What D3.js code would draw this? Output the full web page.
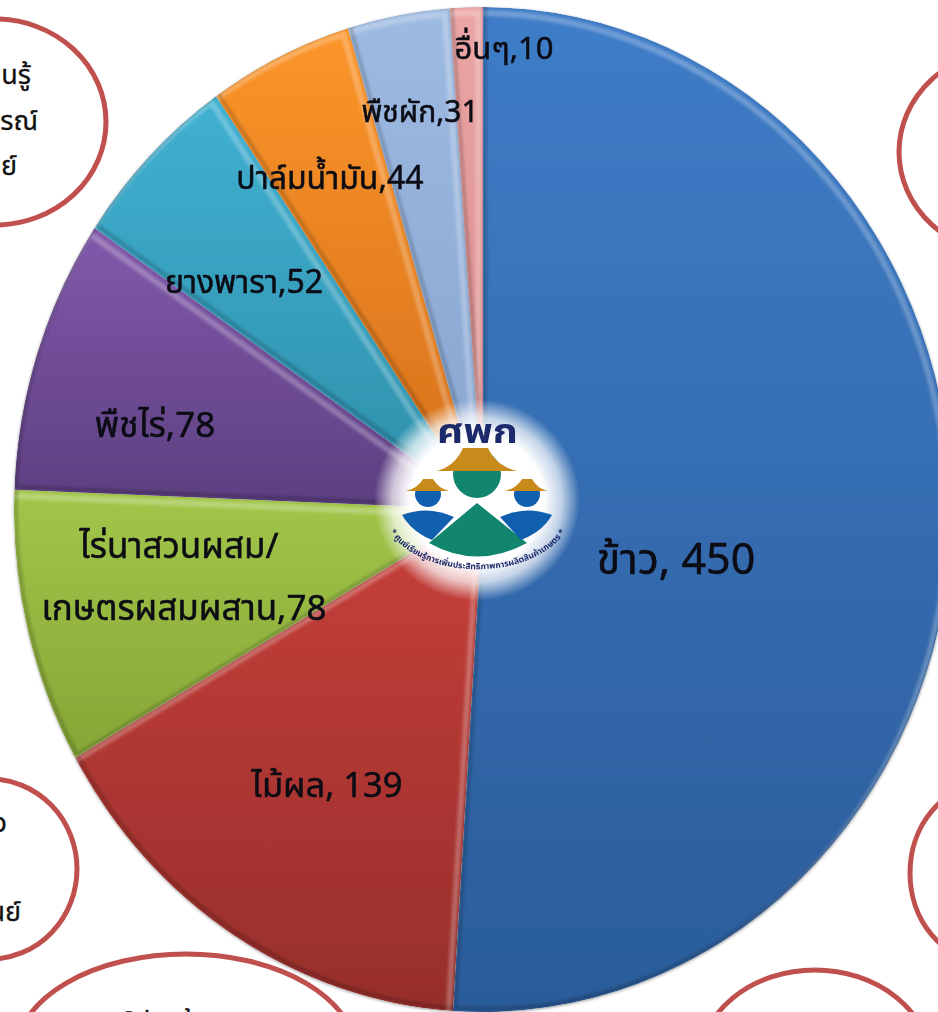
<!DOCTYPE html>
<html lang="th">
<head>
<meta charset="utf-8">
<script src="https://cdn.jsdelivr.net/npm/d3@7"></script>
<style>
  html, body { margin: 0; padding: 0; background: #fff; overflow: hidden; }
  svg { display: block; }
  text { font-family: "Noto Sans", "Noto Sans Thai", "Liberation Sans", sans-serif; }
</style>
</head>
<body>
<svg id="chart" width="938" height="1012"></svg>
<script>
// ===== DATA =====

const cropNames = ["ข้าว", "ไม้ผล", "ไร่นาสวนผสม/เกษตรผสมผสาน", "พืชไร่", "ยางพารา", "ปาล์มน้ำมัน", "พืชผัก", "อื่นๆ"];
const cropValues = [450, 139, 78, 78, 52, 44, 31, 10];
const cropLabels = [["ข้าว, 450"], ["ไม้ผล, 139"], ["ไร่นาสวนผสม/", "เกษตรผสมผสาน,78"], ["พืชไร่,78"], ["ยางพารา,52"], ["ปาล์มน้ำมัน,44"], ["พืชผัก,31"], ["อื่นๆ,10"]];

// ===== STYLE =====

const topColors = ["#3f7dc8", "#c8403a", "#a2c64a", "#8259ab", "#40b0d2", "#fc952a", "#9dbae2", "#eba5a5"];
const bottomColors = ["#2b5c9a", "#962e2b", "#86a636", "#5c3f80", "#2e8fa9", "#d46f1b", "#87a4d0", "#d88989"];
const labelX = [676, 327, 179, 155, 244, 330, 420, 504];
const labelY = [574, 797, 558, 437, 293, 189, 122, 59];
const labelSize = [43, 34.5, 35, 35, 32, 32, 30, 31];

const svg = d3.select("#chart");
const defs = svg.append("defs");

// ===== CALLOUTS (cut by the page edge) =====

const callouts = [
  [-5, 122, 111, 103], [1012, 152, 113, 103], [-10, 869, 87, 90],
  [985, 873, 75, 88], [186, 1054, 170, 100], [815, 1065, 116, 95]
];
svg.selectAll("ellipse.callout")
  .data(callouts)
  .join("ellipse")
  .attr("class", "callout")
  .attr("cx", d => d[0]).attr("cy", d => d[1])
  .attr("rx", d => d[2]).attr("ry", d => d[3])
  .attr("fill", "#fff")
  .attr("stroke", "#c0504d")
  .attr("stroke-width", 5);

const calloutText = [
  ["นรู้", 31, 84], ["รณ์", 38, 130], ["ย์", 17, 175],
  ["ว", 7, 832], ["นย์", 21, 921],
  ["ย์", 132, 1031], ["ธี", 150, 1031], ["น้", 195, 1031], ["ทิ", 270, 1031]
];
svg.selectAll("text.callout-text")
  .data(calloutText)
  .join("text")
  .attr("class", "callout-text")
  .attr("x", d => d[1]).attr("y", d => d[2])
  .attr("text-anchor", "end")
  .attr("font-size", 27)
  .attr("fill", "#111")
  .attr("stroke", "#111")
  .attr("stroke-width", 0.3)
  .text(d => d[0]);

// ===== PIE =====

const shadow = defs.append("filter").attr("id", "pie-shadow")
  .attr("x", "-5%").attr("y", "-5%").attr("width", "110%").attr("height", "110%");
shadow.append("feDropShadow")
  .attr("dx", 0).attr("dy", 1).attr("stdDeviation", 1.5)
  .attr("flood-color", "#000").attr("flood-opacity", 0.4);

const soft = defs.append("filter").attr("id", "soft");
soft.append("feGaussianBlur").attr("stdDeviation", 1.8);

const radius = 500;
const pieData = d3.pie().sort(null).value(d => d)(cropValues);
const arc = d3.arc().innerRadius(0).outerRadius(radius);

const pieGroup = svg.append("g")
  .attr("transform", "translate(483,509.5) scale(0.938,1.005)")
  .attr("filter", "url(#pie-shadow)");

pieData.forEach((d, i) => {
  const grad = defs.append("linearGradient")
    .attr("id", "slice-" + i)
    .attr("x1", 0).attr("y1", 0).attr("x2", 0).attr("y2", 1);
  grad.append("stop").attr("offset", 0).attr("stop-color", topColors[i]);
  grad.append("stop").attr("offset", 1).attr("stop-color", bottomColors[i]);

  defs.append("clipPath").attr("id", "clip-" + i)
    .append("path").attr("d", arc(d));

  const slice = pieGroup.append("g").attr("clip-path", `url(#clip-${i})`);
  slice.append("path")
    .attr("d", arc(d))
    .attr("fill", `url(#slice-${i})`);
  // bevel: light on the upper right edges, dark on the lower left ones
  slice.append("path")
    .attr("d", arc(d))
    .attr("fill", "none")
    .attr("stroke", "#fff")
    .attr("stroke-opacity", 0.26)
    .attr("stroke-width", 6)
    .attr("filter", "url(#soft)")
    .attr("transform", "translate(-5,6)");
  slice.append("path")
    .attr("d", arc(d))
    .attr("fill", "none")
    .attr("stroke", "#000")
    .attr("stroke-opacity", 0.2)
    .attr("stroke-width", 4)
    .attr("filter", "url(#soft)")
    .attr("transform", "translate(2,-3)");
});

// ===== LOGO =====

const glow = defs.append("radialGradient").attr("id", "logo-glow");
glow.append("stop").attr("offset", 0.65).attr("stop-color", "#fff").attr("stop-opacity", 1);
glow.append("stop").attr("offset", 0.82).attr("stop-color", "#fff").attr("stop-opacity", 0.7);
glow.append("stop").attr("offset", 1).attr("stop-color", "#fff").attr("stop-opacity", 0);

const logo = svg.append("g");
logo.append("ellipse")
  .attr("cx", 477).attr("cy", 500).attr("rx", 103).attr("ry", 101)
  .attr("fill", "url(#logo-glow)");

logo.append("text")
  .attr("x", 437).attr("y", 443)
  .attr("textLength", 81)
  .attr("lengthAdjust", "spacingAndGlyphs")
  .attr("font-size", 33).attr("font-weight", 700)
  .attr("fill", "#1c2a6b")
  .text("ศพก");

const logoTeal = "#12856f", logoBlue = "#1160b0", logoHat = "#c98a1c";

logo.append("circle").attr("cx", 477).attr("cy", 474).attr("r", 24).attr("fill", logoTeal);
logo.append("circle").attr("cx", 428).attr("cy", 494).attr("r", 13).attr("fill", logoBlue);
logo.append("circle").attr("cx", 527).attr("cy", 494).attr("r", 13).attr("fill", logoBlue);

const hats = [
  "M437,471 Q455,466 463,448 L488,448 Q496,466 517,471 Z",
  "M406,491 Q418,488 423,479 L433,479 Q438,488 449,491 Z",
  "M505,491 Q517,488 522,479 L532,479 Q537,488 547,491 Z"
];
logo.selectAll("path.hat").data(hats).join("path")
  .attr("class", "hat").attr("d", d => d).attr("fill", logoHat);

logo.append("path").attr("d", "M477,503 L527,543 Q477,570 429,543 Z").attr("fill", logoTeal);
logo.append("path").attr("d", "M402,515 Q428,505 454,517 L432,540 Q412,532 402,515 Z").attr("fill", logoBlue);
logo.append("path").attr("d", "M552,515 Q526,505 500,517 L521,540 Q542,532 552,515 Z").attr("fill", logoBlue);

defs.append("path").attr("id", "logo-ring").attr("d", "M383,509 A94,60 0 0 0 572,509");
logo.append("text")
  .attr("font-size", 8.5).attr("font-weight", 700).attr("fill", "#1c2a6b")
  .append("textPath")
  .attr("href", "#logo-ring")
  .attr("startOffset", "50%")
  .attr("text-anchor", "middle")
  .text("* ศูนย์เรียนรู้การเพิ่มประสิทธิภาพการผลิตสินค้าเกษตร *");

// ===== LABELS =====

cropLabels.forEach((lines, i) => {
  const label = svg.append("text")
    .attr("text-anchor", "middle")
    .attr("font-size", labelSize[i])
    .attr("fill", "#0c0c14")
    .attr("stroke", "#0c0c14")
    .attr("stroke-width", 0.5);
  lines.forEach((line, j) => {
    label.append("tspan")
      .attr("x", labelX[i] + j * 5)
      .attr("y", labelY[i] + j * 62)
      .text(line);
  });
});
</script>
</body>
</html>
